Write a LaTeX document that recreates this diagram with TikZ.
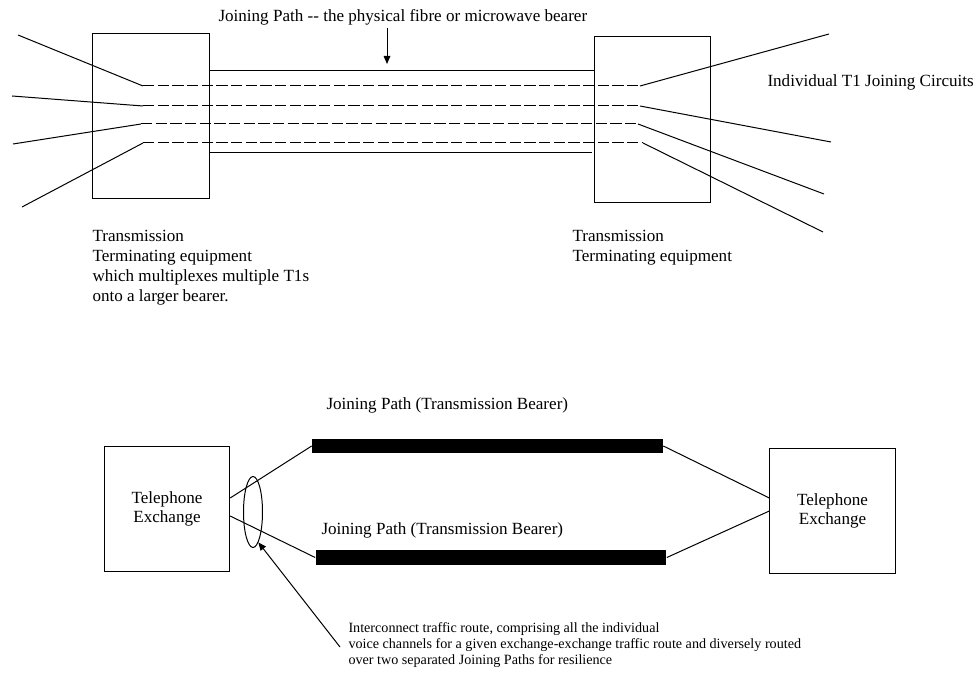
\documentclass[tikz,border=0pt]{standalone}
\usepackage{fontspec}
\setmainfont{Liberation Serif}
\usetikzlibrary{arrows.meta,shapes.geometric}

\tikzset{every picture/.style={line width=0.75pt}}
\tikzset{
  teBox/.style={draw,rectangle,minimum width=87.5pt,minimum height=124pt,inner sep=0pt},
  exBox/.style={draw,rectangle,minimum width=94pt,minimum height=93pt,inner sep=0pt,align=center,font=\fontsize{12.8}{14.25}\selectfont},
  bearer/.style={fill=black,rectangle,minimum width=263pt,minimum height=10.75pt,inner sep=0pt},
  circuit/.style={dash pattern=on 8.5pt off 2.5pt},
  lbl/.style={inner sep=0pt,font=\fontsize{12.8}{15}\selectfont},
  pointer/.style={-{Triangle[length=6pt,width=5pt]}}
}

\begin{document}
\begin{tikzpicture}[x=0.75pt,y=0.75pt,yscale=-1]
	\useasboundingbox (0,0) rectangle (978,680);
	
	%Shape: Rectangle [id:teL] 
	\node [teBox] (teL) at (151,116) {};
	%Shape: Rectangle [id:teR] 
	\node [teBox] (teR) at (652.5,119.5) {};
	
	%Straight Lines [id:bearer edges] 
	\draw (teL.east |- 0,71) -- (teR.west |- 0,71) ;
	\draw (teL.east |- 0,153) -- (592,153) ;
	
	% circuit ends
	\coordinate (inA) at (18,35);   \coordinate (lA) at (143,86);  \coordinate (rA) at (640,86);  \coordinate (outA) at (829,34);
	\coordinate (inB) at (12,96);   \coordinate (lB) at (143,106); \coordinate (rB) at (640,106); \coordinate (outB) at (831,142);
	\coordinate (inC) at (13,144);  \coordinate (lC) at (141,124); \coordinate (rC) at (638,124); \coordinate (outC) at (824,194);
	\coordinate (inD) at (22,207);  \coordinate (lD) at (143,143); \coordinate (rD) at (643,143); \coordinate (outD) at (823,232);
	
	%Straight Lines [id:circuits] 
	\draw (inA) -- (lA) ; \draw [circuit] (lA) -- (rA) ; \draw (rA) -- (outA) ;
	\draw (inB) -- (lB) ; \draw [circuit] (lB) -- (rB) ; \draw (rB) -- (outB) ;
	\draw (inC) -- (lC) ; \draw [circuit] (lC) -- (rC) ; \draw (rC) -- (outC) ;
	\draw (inD) -- (lD) ; \draw [circuit] (lD) -- (rD) ; \draw (rD) -- (outD) ;
	
	%Straight Lines [id:path arrow] 
	\coordinate (jpTail) at (387,28);
	\coordinate (jpTip) at (387,64);
	\draw [pointer] (jpTail) -- (jpTip) ;
	
	% Text Node
	\node [lbl,anchor=base west] (jpText) at (218,22) {Joining Path {-}{-} the physical fibre or microwave bearer};
	% Text Node
	\node [lbl,anchor=base west] (t1Text) at (767,87) {Individual T1 Joining Circuits};
	% Text Node
	\node [lbl,anchor=base west,align=left] (teLText) at (92,302) {Transmission\\Terminating equipment\\which multiplexes multiple T1s\\onto a larger bearer.};
	% Text Node
	\node [lbl,anchor=base west,align=left] (teRText) at (572,262) {Transmission\\Terminating equipment};
	
	%Shape: Rectangle [id:exchanges] 
	\node [exBox] (exL) at (167,509) {Telephone\\Exchange};
	\node [exBox] (exR) at (832.5,511) {Telephone\\Exchange};
	
	%Shape: Rectangle [id:bearers] 
	\node [bearer] (barA) at (487.5,446) {};
	\node [bearer] (barB) at (491,557.5) {};
	
	%Straight Lines [id:routes] 
	\draw ([yshift=-8.25pt]exL.east) -- (barA.west) ;
	\draw ([yshift=5.25pt]exL.east) -- (barB.west) ;
	\draw (barA.east) -- ([yshift=-9.75pt]exR.west) ;
	\draw (barB.east) -- (exR.west) ;
	
	% Text Node
	\node [lbl,anchor=base west] (barAText) at (326,410) {Joining Path (Transmission Bearer)};
	% Text Node
	\node [lbl,anchor=base west] (barBText) at (321,534) {Joining Path (Transmission Bearer)};
	
	%Shape: Ellipse [id:route] 
	\node [draw,ellipse,minimum width=14.25pt,minimum height=53.25pt,inner sep=0pt] (route) at (253,512) {};
	
	%Straight Lines [id:route arrow] 
	\coordinate (routeTail) at (340,647);
	\draw [pointer] (routeTail) -- (route.-80) ;
	
	% Text Node
	\node [lbl,anchor=base west,align=left,font=\fontsize{10.6}{12}\selectfont] (routeText) at (348,664) {Interconnect traffic route, comprising all the individual\\voice channels for a given exchange-exchange traffic route and diversely routed\\over two separated Joining Paths for resilience};
	
\end{tikzpicture}
\end{document}
